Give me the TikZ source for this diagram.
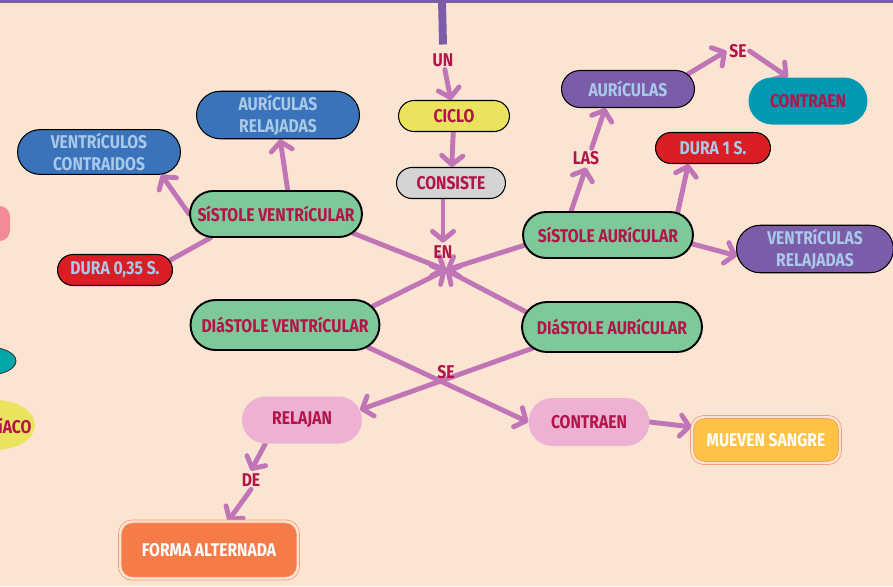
\documentclass[tikz,border=0pt]{standalone}
\usepackage{fontspec}
\newfontfamily\mapfont[FakeStretch=0.85]{Fira Sans}
\usetikzlibrary{positioning,shapes.misc,arrows.meta}

\definecolor{paper}{HTML}{FCE4D3}
\definecolor{plum}{HTML}{7B5CA8}
\definecolor{orchid}{HTML}{C076B6}
\definecolor{wine}{HTML}{B3144A}
\definecolor{leaf}{HTML}{7DC99A}
\definecolor{skyblue}{HTML}{3A73B9}
\definecolor{iceblue}{HTML}{A9C9E9}
\definecolor{alarm}{HTML}{D91E26}
\definecolor{sunny}{HTML}{E9E35E}
\definecolor{ash}{HTML}{D4D4D4}
\definecolor{grape}{HTML}{7A5CA9}
\definecolor{lagoon}{HTML}{0099B1}
\definecolor{candy}{HTML}{ECB1D3}
\definecolor{mango}{HTML}{FFC245}
\definecolor{tangerine}{HTML}{F57C48}
\definecolor{tagline}{HTML}{F5966C}
\definecolor{rose}{HTML}{F28B98}
\definecolor{seal}{HTML}{00A8A8}

\pgfdeclarelayer{paperlayer}
\pgfdeclarelayer{links}
\pgfsetlayers{paperlayer,links,main}

\tikzset{
  mapfont/.style={font=\mapfont\bfseries\fontsize{10.5}{12.5}\selectfont},
  pill/.style={rounded rectangle, draw=black, line width=0.6pt, mapfont, text=wine, align=center, inner sep=2pt},
  phase/.style={pill, fill=leaf, line width=1.1pt},
  blob/.style={rounded rectangle, mapfont, text=wine, inner sep=2pt},
  tagbox/.style={rectangle, rounded corners=7pt, draw=tagline, line width=0.4pt,
    double=paper, double distance=1.4pt, mapfont, text=white},
  word/.style={mapfont, text=wine, inner sep=1.5pt},
  link/.style={draw=orchid, line width=2.8pt, line cap=round,
    -{Straight Barb[length=5pt, width=12pt, line cap=round, line join=round]}}
}

\begin{document}
\begin{tikzpicture}[x=0.02cm, y=-0.02cm]

\useasboundingbox (0,0) rectangle (893,586);
\clip (0,0) rectangle (893,586);
\begin{pgfonlayer}{paperlayer}
  \fill[paper] (0,0) rectangle (893,586);
\end{pgfonlayer}

% top frame and pieces cut at the left edge
\fill[plum] (0,0) rectangle (893,3);
\fill[rose, rounded corners=6pt] (-40,206) rectangle (10,241);
\filldraw[fill=seal, draw=black!80, line width=0.5pt] (-12,361) ellipse [x radius=0.56cm, y radius=0.28cm];
\fill[sunny] (-5,425) ellipse [x radius=0.8cm, y radius=0.5cm];
\node[word] (cardiaco) at (15,426) {íACO};

% centre column
\coordinate (barTop) at (442,0);
\node[word] (un) at (443,60) {UN};
\node[pill, fill=sunny, minimum width=2.36cm, minimum height=0.62cm] (ciclo) at (454,116) {CICLO};
\node[pill, fill=ash, minimum width=2.32cm, minimum height=0.62cm] (consiste) at (451,183) {CONSISTE};
\node[word] (en) at (443,252) {EN};
\coordinate (hub) at (446,270);
\node[word] (se) at (446,372) {SE};

% ventricular systole side
\node[phase, minimum width=3.58cm, minimum height=0.92cm] (sv) at (276,214) {SíSTOLE VENTRíCULAR};
\node[pill, fill=skyblue, text=iceblue, minimum width=3.4cm, minimum height=0.88cm] (ar) at (278,115) {AURíCULAS\\RELAJADAS};
\node[pill, fill=skyblue, text=iceblue, minimum width=3.4cm, minimum height=0.88cm] (vc) at (99,152) {VENTRíCULOS\\CONTRAIDOS};
\node[pill, fill=alarm, text=iceblue, minimum width=2.44cm, minimum height=0.62cm] (dshort) at (115,270) {DURA 0,35 S.};

% atrial systole side
\node[phase, minimum width=3.54cm, minimum height=0.92cm] (sa) at (608,235) {SíSTOLE AURíCULAR};
\node[word] (las) at (586,158) {LAS};
\node[pill, fill=grape, text=iceblue, minimum width=2.8cm, minimum height=0.74cm] (aur) at (628,89) {AURíCULAS};
\node[word] (se1) at (738,51) {SE};
\node[blob, fill=lagoon, minimum width=2.52cm, minimum height=0.94cm] (ctop) at (808,101) {CONTRAEN};
\node[pill, fill=alarm, text=iceblue, minimum width=2.44cm, minimum height=0.62cm] (dlong) at (713,148) {DURA 1 S.};
\node[pill, fill=grape, text=iceblue, minimum width=3.28cm, minimum height=0.88cm] (vr) at (815,249) {VENTRíCULAS\\RELAJADAS};

% diastoles
\node[phase, minimum width=3.92cm, minimum height=1cm] (dv) at (285,325) {DIáSTOLE VENTRíCULAR};
\node[phase, minimum width=3.74cm, minimum height=1cm] (da) at (612,327) {DIáSTOLE AURíCULAR};
\node[blob, fill=candy, minimum width=2.54cm, minimum height=0.94cm] (rel) at (302,420) {RELAJAN};
\node[blob, fill=candy, minimum width=2.56cm, minimum height=0.96cm] (cbot) at (589,422) {CONTRAEN};
\node[word] (de) at (251,480) {DE};
\node[tagbox, fill=tangerine, minimum width=3.56cm, minimum height=1.14cm] (forma) at (209,550) {FORMA ALTERNADA};
\node[tagbox, fill=mango, minimum width=2.96cm, minimum height=0.92cm] (mueven) at (766,440) {MUEVEN SANGRE};

\begin{pgfonlayer}{links}
  \draw[plum, line width=4.5pt] (barTop) -- ([yshift=3.4pt]un.north);
  \draw[link] (un) -- (ciclo);
  \draw[link] (ciclo) -- (consiste);
  \draw[link] (consiste.south -| en.north) -- (en.north);

  \draw[link] (sv.64) -- (ar.-85);
  \draw[link] (sv.west) -- (vc.-20);
  \draw[link, -] (sv.200) -- (dshort.10);
  \draw[link] (sv.-14) -- (hub);
  \draw[link] (sa.187) -- (hub);
  \draw[link] (dv.12) -- (hub);
  \draw[link] (da.170) -- (hub);

  \draw[link] (sa.147) -- (las.south);
  \draw[link] (las.60) -- (aur.-140);
  \draw[link] (aur.14) -- (se1.west);
  \draw[link] (se1.east) -- (ctop.130);
  \draw[link] (sa.18) -- (dlong.-147);
  \draw[link] (sa.-6) -- (vr.185);

  \draw[link] (dv.-15) -- (cbot.west);
  \draw[link] (da.195) -- (rel.10);
  \draw[link] (rel.-147) -- (de.north);
  \draw[link] (de.south) -- ([xshift=0.38cm]forma.north);
  \draw[link] (cbot.east) -- (mueven.170);
\end{pgfonlayer}

\end{tikzpicture}
\end{document}
